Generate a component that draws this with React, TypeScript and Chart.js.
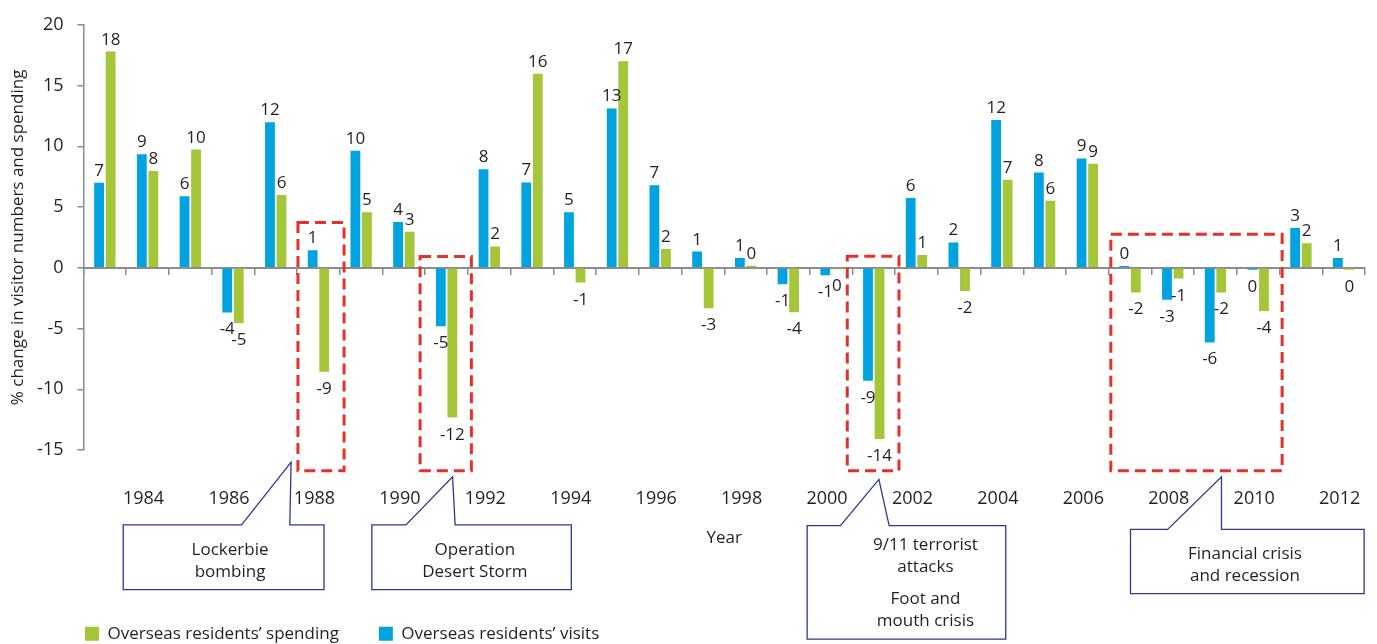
import React, { useEffect, useRef } from 'react';
import { Chart, registerables } from 'chart.js';

Chart.register(...registerables);

// ---------- data ----------
const years = [
  '1983', '1984', '1985', '1986', '1987', '1988', '1989', '1990', '1991', '1992',
  '1993', '1994', '1995', '1996', '1997', '1998', '1999', '2000', '2001', '2002',
  '2003', '2004', '2005', '2006', '2007', '2008', '2009', '2010', '2011', '2012',
];
const visits = [
  7.0, 9.35, 5.89, -3.68, 11.98, 1.44, 9.63, 3.77, -4.82, 8.1,
  7.02, 4.58, 13.12, 6.8, 1.33, 0.81, -1.35, -0.62, -9.29, 5.75,
  2.09, 12.17, 7.84, 9.0, 0.14, -2.63, -6.15, -0.16, 3.28, 0.81,
];
const spending = [
  17.8, 7.97, 9.73, -4.55, 5.99, -8.55, 4.58, 2.96, -12.33, 1.76,
  15.97, -1.22, 16.99, 1.54, -3.33, 0.16, -3.66, -0.13, -14.1, 1.06,
  -1.92, 7.24, 5.52, 8.57, -2.03, -0.89, -2.03, -3.55, 2.01, -0.16,
];
const yTicks = [-15, -10, -5, 0, 5, 10, 15, 20];

// ---------- annotations (category index / axis value space) ----------
const eventFrom = [4.52, 7.38, 17.38, 23.55];
const eventTo = [5.6, 8.58, 18.59, 27.56];
const eventTop = [3.72, 0.93, 0.95, 2.76];
const eventBottom = [-16.7, -16.7, -16.7, -16.7];

const calloutLeft = [0.43, 6.25, 16.44, 24.01];
const calloutRight = [5.13, 10.92, 21.09, 29.48];
const calloutTop = [-21.16, -21.16, -21.22, -21.54];
const calloutBottom = [-26.5, -26.5, -30.57, -26.83];
const pointerBaseL = [3.2, 7.05, 17.22, 24.88];
const pointerBaseR = [4.33, 8.2, 18.36, 26.14];
const pointerTipX = [4.36, 8.14, 18.12, 26.14];
const pointerTipY = [-16.0, -17.2, -17.42, -17.2];
const calloutTextX = [2.93, 8.66, 19.21, 26.69];
const calloutLines = [
  ['Lockerbie', 'bombing'],
  ['Operation', 'Desert Storm'],
  ['9/11 terrorist', 'attacks', 'Foot and', 'mouth crisis'],
  ['Financial crisis', 'and recession'],
];
const calloutLineDy = [
  [25, 47],
  [25, 47],
  [19.5, 41.5, 73.5, 96],
  [24.5, 46.5],
];

// ---------- styles ----------
const FONT = '"Open Sans", "Noto Sans", sans-serif';
const TEXT = '#231F20';
const BLUE = '#00A3DF';
const GREEN = '#A5C639';
const AXIS = '#8C8C8C';
const RED = '#E3312D';
const NAVY = '#2B3A8A';

const valueLabels = {
  id: 'valueLabels',
  afterDatasetsDraw(chart: any) {
    const ctx = chart.ctx;
    ctx.save();
    ctx.font = `17px ${FONT}`;
    ctx.fillStyle = TEXT;
    ctx.textAlign = 'center';
    ctx.textBaseline = 'alphabetic';
    chart.data.datasets.forEach((ds: any, di: number) => {
      const meta = chart.getDatasetMeta(di);
      meta.data.forEach((bar: any, i: number) => {
        const v = ds.data[i] as number;
        const txt = String(Math.round(v));
        const { x, y } = bar.getProps(['x', 'y'], true);
        if (v >= 0) ctx.fillText(txt, x, y - 7);
        else ctx.fillText(txt, x, y + 22);
      });
    });
    ctx.restore();
  },
};

const annotations = {
  id: 'eventAnnotations',
  afterLayout(chart: any) {
    const lg = chart.legend;
    if (lg) {
      lg.left = 45;
      lg.top = 585.2;
    }
  },
  afterDraw(chart: any) {
    const ctx = chart.ctx;
    const xs = chart.scales.x;
    const ys = chart.scales.y;
    const X = (i: number) => xs.getPixelForValue(i);
    const Y = (v: number) => ys.getPixelForValue(v);
    ctx.save();
    // red dashed highlight boxes
    ctx.strokeStyle = RED;
    ctx.lineWidth = 3;
    ctx.setLineDash([11, 6]);
    for (let k = 0; k < eventFrom.length; k++) {
      const x1 = X(eventFrom[k]);
      const x2 = X(eventTo[k]);
      const y1 = Y(eventTop[k]);
      const y2 = Y(eventBottom[k]);
      ctx.strokeRect(x1, y1, x2 - x1, y2 - y1);
    }
    ctx.setLineDash([]);
    // callouts
    for (let k = 0; k < calloutLeft.length; k++) {
      const l = X(calloutLeft[k]);
      const r = X(calloutRight[k]);
      const t = Y(calloutTop[k]);
      const b = Y(calloutBottom[k]);
      ctx.beginPath();
      ctx.moveTo(l, t);
      ctx.lineTo(X(pointerBaseL[k]), t);
      ctx.lineTo(X(pointerTipX[k]), Y(pointerTipY[k]));
      ctx.lineTo(X(pointerBaseR[k]), t);
      ctx.lineTo(r, t);
      ctx.lineTo(r, b);
      ctx.lineTo(l, b);
      ctx.closePath();
      ctx.fillStyle = '#FFFFFF';
      ctx.fill();
      ctx.strokeStyle = NAVY;
      ctx.lineWidth = 1.3;
      ctx.stroke();
      ctx.fillStyle = TEXT;
      ctx.font = `17px ${FONT}`;
      ctx.textAlign = 'center';
      ctx.textBaseline = 'middle';
      const tx = X(calloutTextX[k]);
      calloutLines[k].forEach((line, j) => {
        ctx.fillText(line, tx, t + calloutLineDy[k][j]);
      });
    }
    ctx.restore();
  },
};

export default function App() {
  const ref = useRef<HTMLCanvasElement>(null);
  useEffect(() => {
    const canvas = ref.current;
    if (!canvas) return;
    const chart = new Chart(canvas, {
      type: 'bar',
      data: {
        labels: years,
        datasets: [
          {
            label: 'Overseas residents’ visits',
            data: visits,
            backgroundColor: BLUE,
            borderWidth: 0,
            categoryPercentage: 0.54,
            barPercentage: 0.85,
          },
          {
            label: 'Overseas residents’ spending',
            data: spending,
            backgroundColor: GREEN,
            borderWidth: 0,
            categoryPercentage: 0.54,
            barPercentage: 0.85,
          },
        ],
      },
      options: {
        animation: false,
        responsive: false,
        devicePixelRatio: 1,
        layout: { padding: { left: 0, right: 12, top: 20, bottom: 0 } },
        plugins: {
          tooltip: { enabled: false },
          title: { display: false },
          legend: {
            display: true,
            position: 'bottom',
            align: 'start',
            reverse: true,
            labels: {
              boxWidth: 14,
              boxHeight: 14,
              padding: 40,
              color: TEXT,
              font: { family: FONT, size: 17 },
            },
          },
        },
        scales: {
          x: {
            type: 'category',
            offset: true,
            grid: { display: false, drawTicks: false },
            border: { display: false },
            ticks: {
              autoSkip: false,
              maxRotation: 0,
              minRotation: 0,
              padding: 38,
              labelOffset: -4,
              color: TEXT,
              font: { family: FONT, size: 18 },
              callback: (_v: any, i: number) => (i % 2 === 1 ? years[i] : ''),
            },
            title: {
              display: true,
              text: 'Year',
              color: TEXT,
              font: { family: FONT, size: 17 },
              padding: { top: 0, bottom: 29 },
            },
            afterFit: (s: any) => {
              const lh = s.chart.legend ? s.chart.legend.height : 0;
              s.height = 194 - lh;
              s.paddingLeft = 0;
              s.paddingRight = 0;
            },
          },
          x0: {
            type: 'category',
            axis: 'x',
            position: { y: 0 },
            offset: true,
            grid: {
              display: true,
              offset: true,
              drawOnChartArea: false,
              drawTicks: true,
              tickLength: 6,
              color: AXIS,
              lineWidth: 1.5,
            },
            border: { display: true, color: AXIS, width: 2 },
            ticks: { display: false },
            afterFit: (s: any) => {
              s.paddingLeft = 0;
              s.paddingRight = 0;
            },
          },
          y: {
            min: -15,
            max: 20,
            afterBuildTicks: (s: any) => {
              s.ticks = yTicks.map((v) => ({ value: v }));
            },
            grid: {
              display: true,
              drawOnChartArea: false,
              drawTicks: true,
              tickLength: 6,
              color: AXIS,
              lineWidth: 1.5,
            },
            border: { display: true, color: AXIS, width: 1.5 },
            ticks: {
              padding: 14,
              color: TEXT,
              font: { family: FONT, size: 18 },
            },
            title: {
              display: true,
              text: '% change in visitor numbers and spending',
              color: TEXT,
              font: { family: FONT, size: 17 },
              padding: { top: 8, bottom: 0 },
            },
            afterFit: (s: any) => {
              s.width = 83.5;
            },
          },
        },
      },
      plugins: [valueLabels, annotations],
    } as any);
    return () => chart.destroy();
  }, []);
  return (
    <div style={{ position: 'absolute', left: 0, top: 0, width: 1377, height: 644, background: '#FFFFFF' }}>
      <canvas ref={ref} width={1377} height={644} style={{ display: 'block' }} />
    </div>
  );
}
